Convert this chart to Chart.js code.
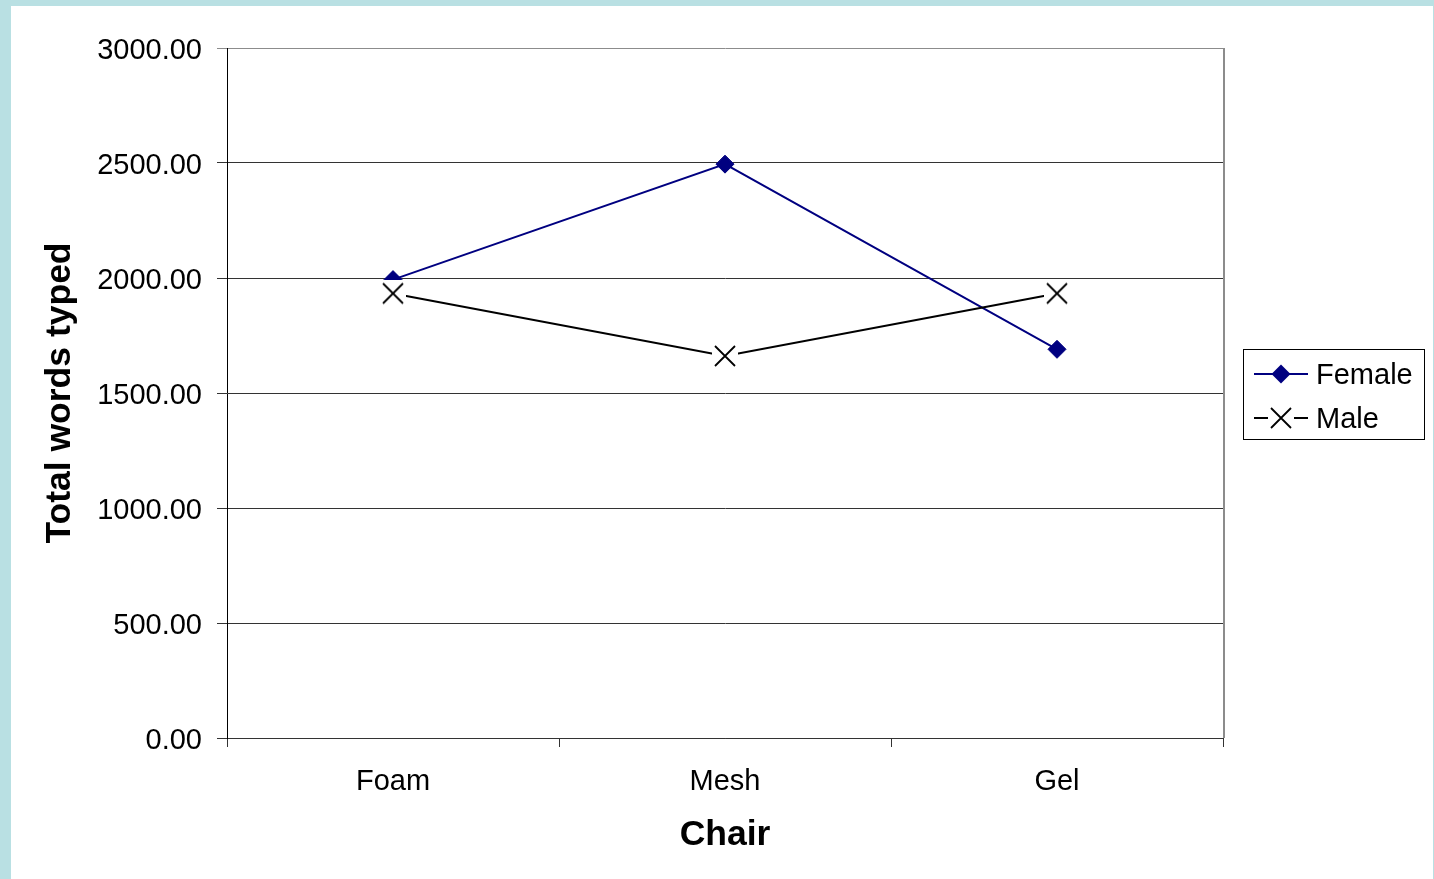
<!DOCTYPE html>
<html>
<head>
<meta charset="utf-8">
<title>Total words typed by chair</title>
<script src="https://cdn.jsdelivr.net/npm/chart.js@4.4.1/dist/chart.umd.min.js"></script>
<style>
  html, body { margin: 0; padding: 0; background: #b9e0e3; overflow: hidden; }
  #frame { position: absolute; left: 11px; top: 6px; width: 1422px; height: 873px; background: #ffffff; }
  canvas { display: block; }
</style>
</head>
<body>
<div id="frame"><canvas id="chart" width="1422" height="873"></canvas></div>
<script>
// Chair types on the x axis
const categories = ['Foam', 'Mesh', 'Gel'];
// Total words typed per group
const femaleWords = [1993, 2495, 1690];
const maleWords = [1933, 1661, 1933];
// Value axis range
const yMin = 0;
const yMax = 3000;
const yStep = 500;

const FONT = '"Liberation Sans", Arial, Helvetica, sans-serif';
const NAVY = '#000080';

// X marker with a white backing square, so the line stops short of it
function makeCrossMarker() {
  const c = document.createElement('canvas');
  c.width = 26; c.height = 26;
  const g = c.getContext('2d');
  g.fillStyle = '#ffffff';
  g.fillRect(0, 0, 26, 26);
  g.strokeStyle = '#000000';
  g.lineWidth = 1.8;
  g.beginPath();
  g.moveTo(3, 3); g.lineTo(23, 23);
  g.moveTo(23, 3); g.lineTo(3, 23);
  g.stroke();
  return c;
}
const crossMarker = makeCrossMarker();

// Right border of the plot area and the boxed legend
const framePlugin = {
  id: 'framePlugin',
  afterDraw(chart) {
    const { ctx, chartArea } = chart;
    ctx.save();
    ctx.strokeStyle = '#8c8c8c';
    ctx.lineWidth = 2;
    ctx.beginPath();
    ctx.moveTo(chartArea.right + 1, chartArea.top);
    ctx.lineTo(chartArea.right + 1, chartArea.bottom);
    ctx.stroke();

    // legend box
    const bx = 1232, bw = 181, bh = 90;
    const by = Math.round((chartArea.top + chartArea.bottom) / 2 - bh / 2) + 1;
    ctx.strokeStyle = '#000000';
    ctx.lineWidth = 1;
    ctx.strokeRect(bx + 0.5, by + 0.5, bw, bh);

    const rows = [by + 25, by + 69];
    chart.data.datasets.forEach((ds, i) => {
      const y = rows[i];
      const mx = bx + 38;
      ctx.strokeStyle = ds.borderColor;
      ctx.lineWidth = 2;
      ctx.beginPath();
      ctx.moveTo(bx + 11, y);
      ctx.lineTo(bx + 65, y);
      ctx.stroke();
      if (ds.pointStyle === 'rectRot') {
        ctx.fillStyle = ds.pointBackgroundColor;
        ctx.beginPath();
        ctx.moveTo(mx, y - 9.5);
        ctx.lineTo(mx + 9.5, y);
        ctx.lineTo(mx, y + 9.5);
        ctx.lineTo(mx - 9.5, y);
        ctx.closePath();
        ctx.fill();
      } else {
        ctx.drawImage(ds.pointStyle, mx - 13, y - 13);
      }
      ctx.fillStyle = '#000000';
      ctx.font = '29px ' + FONT;
      ctx.textAlign = 'left';
      ctx.textBaseline = 'middle';
      ctx.fillText(ds.label, bx + 73, y + 2);
    });
    ctx.restore();
  }
};

new Chart(document.getElementById('chart'), {
  type: 'line',
  data: {
    labels: categories,
    datasets: [
      {
        label: 'Female',
        data: femaleWords,
        borderColor: NAVY,
        backgroundColor: NAVY,
        borderWidth: 2,
        pointStyle: 'rectRot',
        pointRadius: 9,
        pointBackgroundColor: NAVY,
        pointBorderColor: NAVY,
        pointBorderWidth: 1,
        tension: 0,
        order: 2
      },
      {
        label: 'Male',
        data: maleWords,
        borderColor: '#000000',
        backgroundColor: '#000000',
        borderWidth: 2,
        pointStyle: crossMarker,
        pointRadius: 13,
        tension: 0,
        order: 1
      }
    ]
  },
  options: {
    responsive: false,
    animation: false,
    devicePixelRatio: 1,
    events: [],
    layout: { padding: { left: 0, top: 42, right: 210, bottom: 0 } },
    plugins: {
      legend: { display: false },
      tooltip: { enabled: false }
    },
    scales: {
      x: {
        type: 'category',
        offset: true,
        afterFit(scale) { scale.height = 141; },
        grid: {
          offset: true,
          drawOnChartArea: false,
          drawTicks: true,
          tickLength: 9,
          color: '#333333',
          lineWidth: 1
        },
        border: { display: true, color: '#333333', width: 1 },
        ticks: {
          color: '#000000',
          padding: 18,
          font: { family: FONT, size: 29 }
        },
        title: {
          display: true,
          text: 'Chair',
          color: '#000000',
          padding: { top: 0, bottom: 22 },
          font: { family: FONT, size: 35.5, weight: 'bold' }
        }
      },
      y: {
        min: yMin,
        max: yMax,
        afterFit(scale) { scale.width = 216; },
        ticks: {
          stepSize: yStep,
          color: '#000000',
          padding: 15,
          labelOffset: 2.5,
          font: { family: FONT, size: 29 },
          callback: (v) => Number(v).toFixed(2)
        },
        grid: {
          drawTicks: true,
          tickLength: 10,
          lineWidth: 1,
          color: (ctx) => (ctx.tick && ctx.tick.value === yMax) ? '#8c8c8c' : '#333333'
        },
        border: { display: true, color: '#000000', width: 1 },
        title: {
          display: true,
          text: 'Total words typed',
          color: '#000000',
          padding: { top: 28, bottom: 0 },
          font: { family: FONT, size: 35.5, weight: 'bold' }
        }
      }
    }
  },
  plugins: [framePlugin]
});
</script>
</body>
</html>
